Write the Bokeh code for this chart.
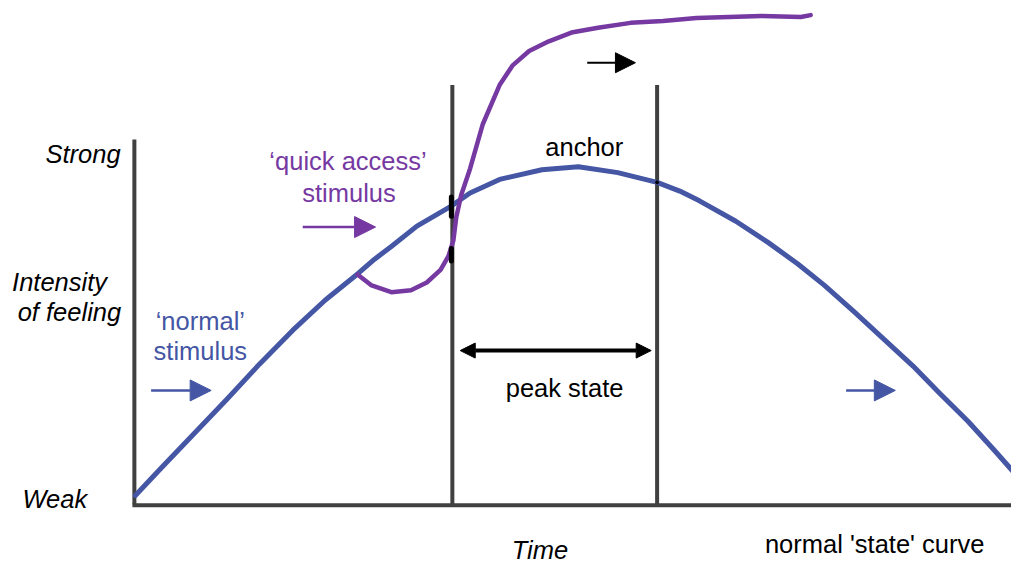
from bokeh.plotting import figure
from bokeh.models import Range1d, Arrow, NormalHead
from bokeh.core.properties import value
from bokeh.embed import file_html
from bokeh.resources import INLINE

# Normal 'state' curve (time, intensity) in drawing units (y grows downward)
blue_t = [137, 163, 197, 230, 263, 297, 330, 363, 380, 397, 423, 457, 477, 507, 550,
          587, 627, 667, 690, 710, 747, 780, 810, 837, 867, 897, 927, 953, 983, 1010, 1030]
blue_i = [509, 481, 445, 410, 374, 339, 308, 281, 266, 253, 232, 212, 198, 184, 174,
          171, 177, 187, 196, 206, 227, 249, 271, 293, 320, 348, 376, 403, 433, 463, 486]

# 'quick access' curve
purple_t = [363, 377, 397, 417, 433, 447, 455, 460, 463, 468, 477, 490, 507, 520, 537,
            557, 580, 607, 640, 673, 707, 740, 773, 813, 823]
purple_i = [282, 293, 300, 298, 290, 277, 263, 247, 223, 200, 173, 127, 87, 67, 52,
            42, 33, 28, 23, 21, 18, 17, 16, 17, 15]

# Peak state boundaries
peak_start = 459
peak_end = 667

BLUE = "#4456a4"
PURPLE = "#7639a2"
AXIS = "#404040"
FONT = value("Liberation Sans")
FS = "25.5px"

p = figure(width=1011, height=563, output_backend="svg", toolbar_location=None,
           x_range=Range1d(0, 1027), y_range=Range1d(579, 0), min_border=0)
p.axis.visible = False
p.grid.visible = False
p.outline_line_color = None
p.background_fill_color = "white"

# axes
p.line([136, 136], [143, 518], line_width=4, line_color=AXIS)
p.line([134, 1030], [519, 519], line_width=4, line_color=AXIS)
# peak state verticals
for xv in (peak_start, peak_end):
    p.line([xv, xv], [87, 519], line_width=4, line_color=AXIS)

# curves
p.line(blue_t, blue_i, line_width=5, line_color=BLUE, line_join="round", line_cap="round")
p.line(purple_t, purple_i, line_width=4.5, line_color=PURPLE, line_join="round", line_cap="round")

# small black crossing marks
p.segment(x0=[458, 458], y0=[202, 255], x1=[458, 458], y1=[222, 268],
          line_width=5, line_color="black", line_cap="round")
p.scatter([667], [187], size=3, color="black")

# arrows
def arrow(x0, y0, x1, y1, color, size, lw):
    p.add_layout(Arrow(end=NormalHead(size=size, fill_color=color, line_color=color, line_width=1),
                       x_start=x0, y_start=y0, x_end=x1, y_end=y1,
                       line_color=color, line_width=lw))

arrow(596, 64, 645, 64, "black", 20, 2)
arrow(153, 401, 214, 401, BLUE, 21, 2.5)
arrow(859, 401, 909, 401, BLUE, 21, 2.5)
arrow(307, 233, 381, 233, PURPLE, 21, 2.5)
# double-headed peak state arrow
p.add_layout(Arrow(start=NormalHead(size=15, fill_color="black", line_color="black"),
                   end=NormalHead(size=15, fill_color="black", line_color="black"),
                   x_start=467, y_start=360, x_end=661, y_end=360,
                   line_color="black", line_width=4))

def txt(x, y, s, color="black", align="left", italic=False):
    p.text(x=[x], y=[y], text=[s], text_color=color, text_align=align,
           text_baseline="middle", text_font=FONT, text_font_size=FS,
           text_font_style="italic" if italic else "normal")

txt(122, 158, "Strong", align="right", italic=True)
txt(60, 290, "Intensity", align="center", italic=True)
txt(70, 320, "of feeling", align="center", italic=True)
txt(88, 513, "Weak", align="right", italic=True)
txt(548, 565, "Time", align="center", italic=True)
txt(888, 559, "normal 'state' curve", align="center")
txt(573, 398, "peak state", align="center")
txt(593, 151, "anchor", align="center")
txt(353, 165, "\u2018quick access\u2019", color=PURPLE, align="center")
txt(354, 198, "stimulus", color=PURPLE, align="center")
txt(203, 330, "\u2018normal\u2019", color=BLUE, align="center")
txt(203, 360, "stimulus", color=BLUE, align="center")

open("out.html", "w").write(file_html(p, INLINE))
